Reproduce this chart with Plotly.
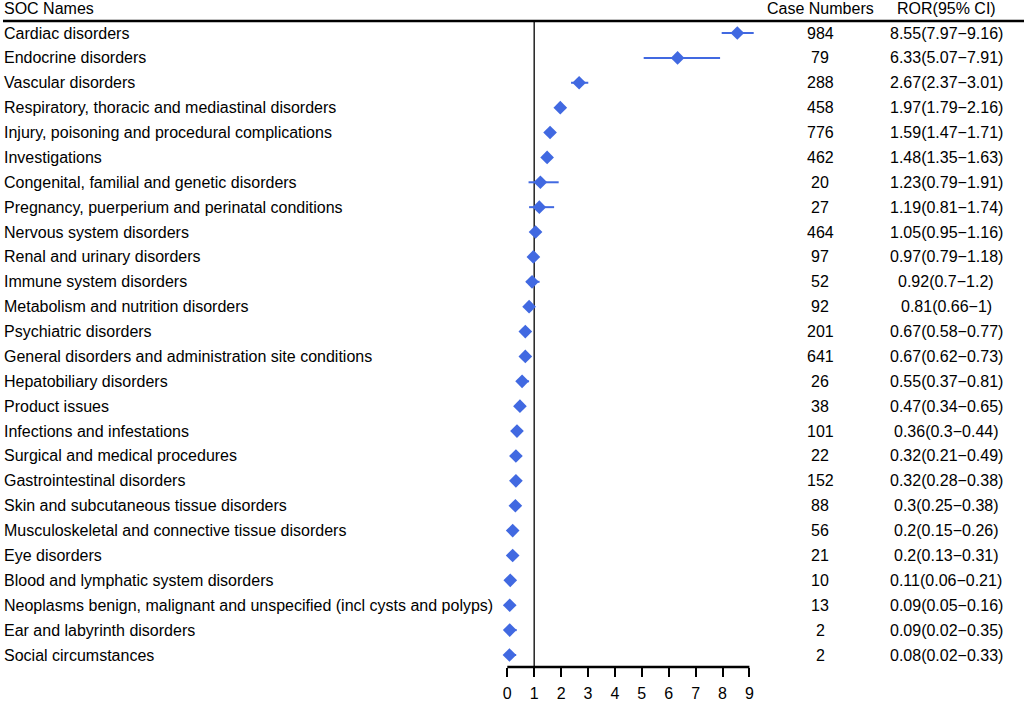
import plotly.graph_objects as go

soc_names = [
    "Cardiac disorders",
    "Endocrine disorders",
    "Vascular disorders",
    "Respiratory, thoracic and mediastinal disorders",
    "Injury, poisoning and procedural complications",
    "Investigations",
    "Congenital, familial and genetic disorders",
    "Pregnancy, puerperium and perinatal conditions",
    "Nervous system disorders",
    "Renal and urinary disorders",
    "Immune system disorders",
    "Metabolism and nutrition disorders",
    "Psychiatric disorders",
    "General disorders and administration site conditions",
    "Hepatobiliary disorders",
    "Product issues",
    "Infections and infestations",
    "Surgical and medical procedures",
    "Gastrointestinal disorders",
    "Skin and subcutaneous tissue disorders",
    "Musculoskeletal and connective tissue disorders",
    "Eye disorders",
    "Blood and lymphatic system disorders",
    "Neoplasms benign, malignant and unspecified (incl cysts and polyps)",
    "Ear and labyrinth disorders",
    "Social circumstances",
]
case_numbers = [984, 79, 288, 458, 776, 462, 20, 27, 464, 97, 52, 92, 201, 641,
                26, 38, 101, 22, 152, 88, 56, 21, 10, 13, 2, 2]
ror = [8.55, 6.33, 2.67, 1.97, 1.59, 1.48, 1.23, 1.19, 1.05, 0.97, 0.92, 0.81, 0.67,
       0.67, 0.55, 0.47, 0.36, 0.32, 0.32, 0.3, 0.2, 0.2, 0.11, 0.09, 0.09, 0.08]
ci_low = [7.97, 5.07, 2.37, 1.79, 1.47, 1.35, 0.79, 0.81, 0.95, 0.79, 0.7, 0.66, 0.58,
          0.62, 0.37, 0.34, 0.3, 0.21, 0.28, 0.25, 0.15, 0.13, 0.06, 0.05, 0.02, 0.02]
ci_high = [9.16, 7.91, 3.01, 2.16, 1.71, 1.63, 1.91, 1.74, 1.16, 1.18, 1.2, 1, 0.77,
           0.73, 0.81, 0.65, 0.44, 0.49, 0.38, 0.38, 0.26, 0.31, 0.21, 0.16, 0.35, 0.33]
x_ticks = [0, 1, 2, 3, 4, 5, 6, 7, 8, 9]

FONT = "Liberation Sans, Arial, sans-serif"
W, H = 1024, 703
X0_PX, UNIT_PX = 507.3, 26.9
rows = list(range(len(soc_names)))

fig = go.Figure()
fig.add_trace(go.Scatter(
    x=ror, y=rows, mode="markers",
    marker=dict(symbol="diamond", size=10.5, color="#4169E1", line=dict(width=0)),
    error_x=dict(type="data", symmetric=False,
                 array=[h - r for h, r in zip(ci_high, ror)],
                 arrayminus=[r - l for r, l in zip(ror, ci_low)],
                 color="#4169E1", thickness=2, width=0),
    cliponaxis=False, showlegend=False, hoverinfo="skip",
))

ann = []
fs = 16
LX = 1.5 / W
ann.append(dict(text="SOC Names", xref="paper", yref="paper", x=LX, y=1, yshift=13,
                xanchor="left", yanchor="middle", showarrow=False, font=dict(size=fs)))
ann.append(dict(text="Case Numbers", xref="paper", yref="paper", x=820 / W, y=1, yshift=13,
                xanchor="center", yanchor="middle", showarrow=False, font=dict(size=fs)))
ann.append(dict(text="ROR(95% CI)", xref="paper", yref="paper", x=946 / W, y=1, yshift=13,
                xanchor="center", yanchor="middle", showarrow=False, font=dict(size=fs)))
for i, name in enumerate(soc_names):
    ann.append(dict(text=name, xref="paper", yref="y", x=LX, y=i,
                    xanchor="left", yanchor="middle", showarrow=False, font=dict(size=fs)))
    ann.append(dict(text=str(case_numbers[i]), xref="paper", yref="y", x=820 / W, y=i,
                    xanchor="center", yanchor="middle", showarrow=False, font=dict(size=fs)))
    txt = "{:g}({:g}\u2212{:g})".format(ror[i], ci_low[i], ci_high[i])
    ann.append(dict(text=txt, xref="paper", yref="y", x=946 / W, y=i,
                    xanchor="center", yanchor="middle", showarrow=False, font=dict(size=fs)))

shapes = [
    dict(type="line", xref="paper", yref="paper", x0=3 / W, x1=1, y0=1, y1=1,
         line=dict(color="black", width=2.5)),
    dict(type="line", xref="x", yref="paper", x0=1, x1=1, y0=0, y1=1,
         line=dict(color="#222222", width=1.5), layer="below"),
    dict(type="line", xref="x", yref="paper", x0=x_ticks[0], x1=x_ticks[-1], y0=0, y1=0,
         line=dict(color="black", width=2.5)),
]

n = len(soc_names)
top_pad = 12 / 24.88
fig.update_layout(
    width=W, height=H,
    margin=dict(l=0, r=0, t=21, b=36, pad=0),
    paper_bgcolor="white", plot_bgcolor="white",
    font=dict(family=FONT, size=fs, color="black"),
    annotations=ann, shapes=shapes,
    xaxis=dict(range=[-X0_PX / UNIT_PX, (W - X0_PX) / UNIT_PX],
               tickvals=x_ticks, ticktext=[str(t) for t in x_ticks],
               ticks="outside", ticklen=9, tickwidth=2, tickcolor="black",
               ticklabelstandoff=3,
               showline=False, showgrid=False, zeroline=False,
               tickfont=dict(size=fs, color="black")),
    yaxis=dict(range=[n - 1 + top_pad, -top_pad], visible=False,
               showgrid=False, zeroline=False),
)

fig.write_html("out.html",
               config={"displayModeBar": False},
               post_script="document.body.style.margin='0px';document.body.style.overflow='hidden';")
